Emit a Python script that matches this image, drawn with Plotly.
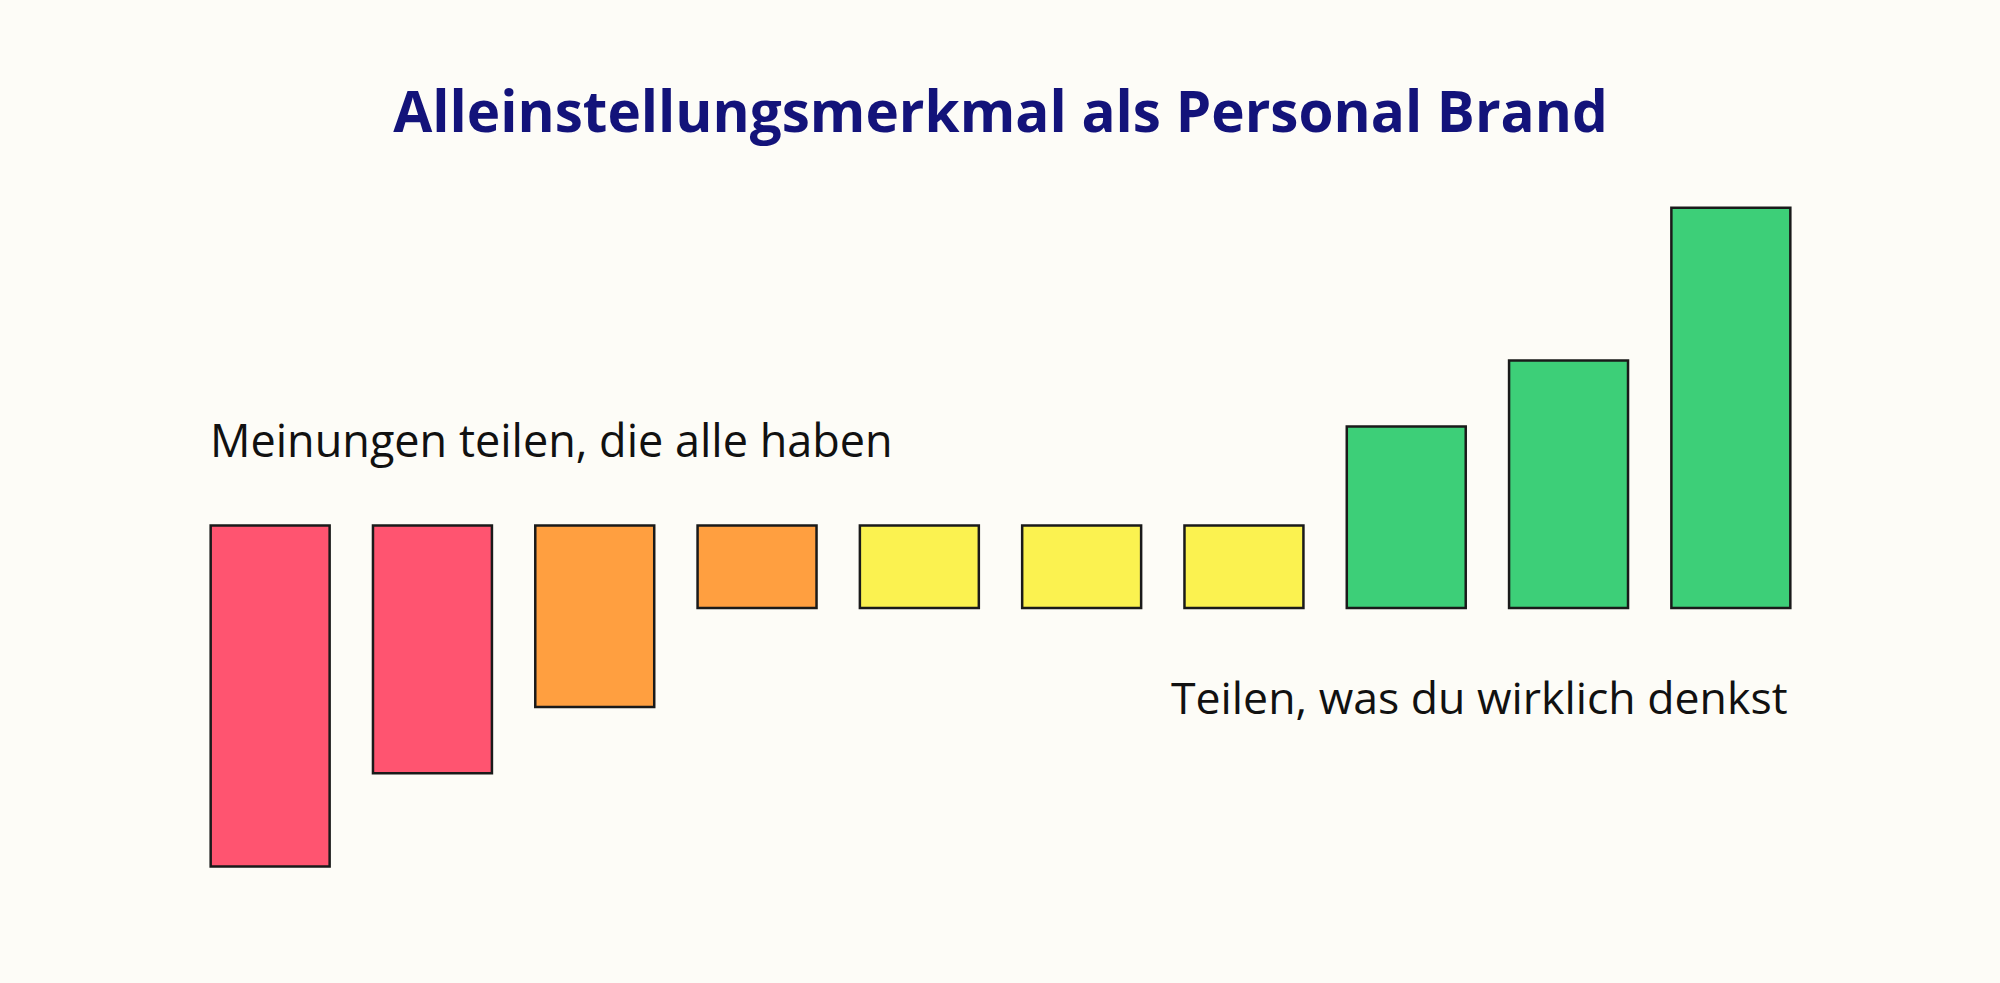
import plotly.graph_objects as go

# ---- data ----
categories = ["1", "2", "3", "4", "5", "6", "7", "8", "9", "10"]
values = [-4.13, -3.0, -2.2, -1.0, 1.0, 1.0, 1.0, 2.2, 3.0, 4.85]
colors = ["#FF5470", "#FF5470", "#FF9F40", "#FF9F40",
          "#FBF250", "#FBF250", "#FBF250",
          "#3DCF78", "#3DCF78", "#3DCF78"]
neutral_level = 1.0  # negative bars hang from this level, positive bars rise from 0
bases = [neutral_level if v < 0 else 0 for v in values]

title_text = "Alleinstellungsmerkmal als Personal Brand"
label_left = "Meinungen teilen, die alle haben"
label_right = "Teilen, was du wirklich denkst"

BG = "#FDFCF7"

fig = go.Figure()
fig.add_trace(go.Bar(
    x=categories,
    y=values,
    base=bases,
    marker=dict(color=colors, line=dict(color="#1a1a1a", width=2.5)),
    hoverinfo="skip",
))

fig.add_annotation(
    x=0.0116, xref="paper", y=2.04, yref="y",
    text=label_left, showarrow=False, xanchor="left", yanchor="middle",
    font=dict(family="Open Sans", size=45, color="#111111"),
)
fig.add_annotation(
    x=0.9866, xref="paper", y=-1.07, yref="y",
    text=label_right, showarrow=False, xanchor="right", yanchor="middle",
    font=dict(family="Open Sans", size=44.6, color="#111111"),
)

fig.update_layout(
    width=2000, height=983,
    paper_bgcolor=BG, plot_bgcolor=BG,
    margin=dict(l=189, r=188, t=154, b=86),
    bargap=0.267,
    showlegend=False,
    title=dict(
        text=title_text, x=0.5, xanchor="center", y=1 - 112 / 983, yanchor="middle",
        xref="paper", yref="container",
        font=dict(family="Open Sans", size=56.6, color="#13137A", weight="bold"),
    ),
    xaxis=dict(visible=False, range=[-0.5, 9.5]),
    yaxis=dict(visible=False, range=[-3.5, 5.5]),
)

fig.write_html(
    "out.html",
    config={"displayModeBar": False},
    post_script="document.body.style.margin='0';document.body.style.background='" + BG + "';",
)
